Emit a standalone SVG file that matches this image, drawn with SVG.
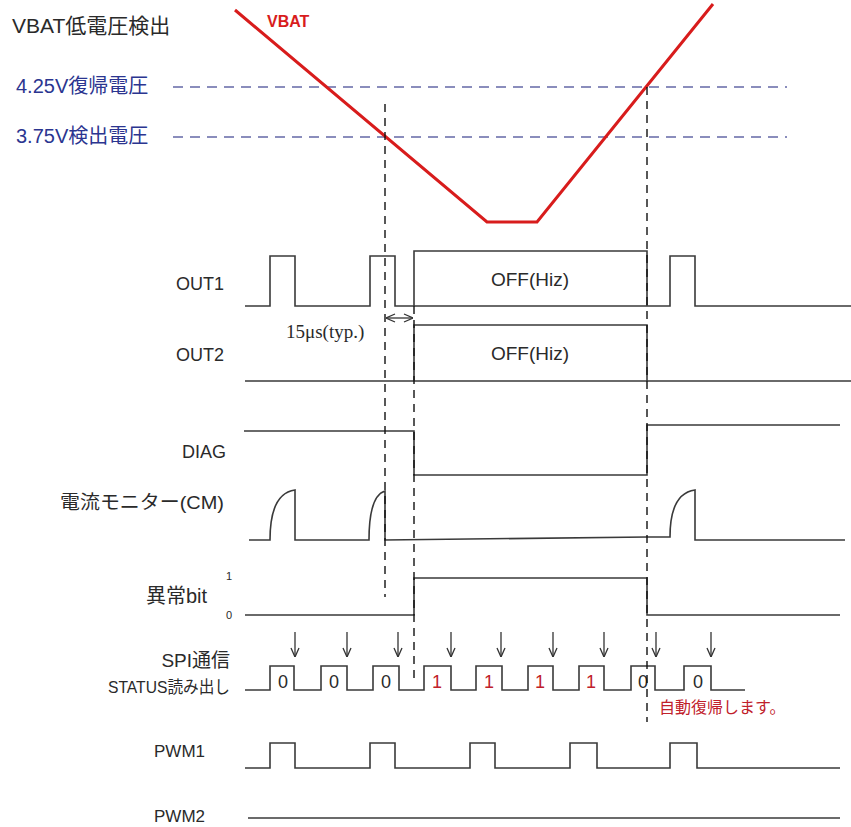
<svg xmlns="http://www.w3.org/2000/svg" width="851" height="827" viewBox="0 0 851 827">
<style>
  text { font-family: "Liberation Sans", "Noto Sans CJK JP", sans-serif; fill: #2a2a2a; }
  .lbl { font-size: 18px; }
  .jp { font-size: 19px; }
  .blue { fill: #2b3590; font-size: 20px; }
  .sig { fill: none; stroke: #3a3a3a; stroke-width: 1.6; stroke-linejoin: miter; }
  .vdash { fill: none; stroke: #111; stroke-width: 1.4; stroke-dasharray: 8 6; }
  .hdash { fill: none; stroke: #6468a6; stroke-width: 1.5; stroke-dasharray: 10 7; }
  .vbat { fill: none; stroke: #d81c1c; stroke-width: 3; stroke-linejoin: miter; }
  .dig { font-size: 18px; text-anchor: middle; }
  .red { fill: #c0202a; }
  .arr { fill: none; stroke: #333; stroke-width: 1.3; }
</style>
<defs>
  <marker id="open" viewBox="0 0 10 10" refX="10" refY="5" markerWidth="10" markerHeight="10" markerUnits="userSpaceOnUse" orient="auto-start-reverse">
    <path d="M1,1 L10,5 L1,9" fill="none" stroke="#333" stroke-width="1.3"/>
  </marker>
</defs>
<rect width="851" height="827" fill="#fff"/>

<g id="vbat-section">
  <text x="12" y="33" style="font-size:21px">VBAT低電圧検出</text>
  <text x="267" y="27" style="font-size:16px;font-weight:bold;fill:#d81c1c">VBAT</text>
  <text x="16" y="93" class="blue">4.25V復帰電圧</text>
  <text x="16" y="143" class="blue">3.75V検出電圧</text>
  <line class="hdash" x1="173" y1="87" x2="787" y2="87"/>
  <line class="hdash" x1="173" y1="137" x2="787" y2="137"/>
  <polyline class="vbat" points="235,10 487,222 537,222 713,4"/>
</g>

<g id="out1">
  <text x="176" y="290" class="lbl">OUT1</text>
  <path class="sig" d="M245,306 H270 V256 H295 V306 H370 V256 H395 V306 H414 V251 H647 V306 H414 M647,306 H670 V256 H695 V306 H851"/>
  <text x="530" y="286" class="lbl" text-anchor="middle" style="font-size:19px">OFF(Hiz)</text>
</g>

<g id="out2">
  <text x="176" y="361" class="lbl">OUT2</text>
  <path class="sig" d="M245,381 H851 M414,381 V325 H647 V381"/>
  <text x="530" y="360" class="lbl" text-anchor="middle" style="font-size:19px">OFF(Hiz)</text>
</g>

<g id="delay">
  <line class="arr" x1="386" y1="318" x2="413" y2="318" marker-start="url(#open)" marker-end="url(#open)"/>
  <text x="286" y="338" style="font-family:'Liberation Serif','DejaVu Serif',serif;font-size:19px">15μs(typ.)</text>
</g>

<g id="diag">
  <text x="226" y="458" class="lbl" text-anchor="end">DIAG</text>
  <path class="sig" d="M244,431 H414 V475 H647 V425 H840"/>
</g>

<g id="cm">
  <text x="224" y="509" class="jp" text-anchor="end" textLength="164" lengthAdjust="spacingAndGlyphs">電流モニター(CM)</text>
  <path class="sig" d="M249,540 H270 C270,505 280,492 295,490 V540 H369 C369,510 375,494 385,491 V540 L647,537 H670 C670,505 680,492 695,490 V540 H845"/>
</g>

<g id="abnormal-bit">
  <text x="146" y="603" style="font-size:20px">異常bit</text>
  <text x="226" y="580" style="font-size:11px">1</text>
  <text x="226" y="619" style="font-size:11px">0</text>
  <path class="sig" d="M245,615 H414 V578 H647 V615 H840"/>
</g>

<g id="spi">
  <text x="230" y="667" class="jp" text-anchor="end">SPI通信</text>
  <text x="108" y="693" style="font-size:17px" textLength="122" lengthAdjust="spacingAndGlyphs">STATUS読み出し</text>
  <path class="sig" d="M245,690 H270 V666 H294 V690 H321 V666 H347 V690 H373 V666 H399 V690 H424 V666 H451 V690 H476 V666 H502 V690 H528 V666 H553 V690 H579 V666 H604 V690 H631 V666 H655 V690 H684 V666 H711 V690 H745"/>
  <text x="283" y="688" class="dig">0</text>
  <text x="334" y="688" class="dig">0</text>
  <text x="386" y="688" class="dig">0</text>
  <text x="437" y="688" class="dig red">1</text>
  <text x="489" y="688" class="dig red">1</text>
  <text x="540" y="688" class="dig red">1</text>
  <text x="591" y="688" class="dig red">1</text>
  <text x="643" y="688" class="dig">0</text>
  <text x="698" y="688" class="dig">0</text>
  <g class="arr">
    <line x1="295" y1="632" x2="295" y2="657" marker-end="url(#open)"/>
    <line x1="347" y1="632" x2="347" y2="657" marker-end="url(#open)"/>
    <line x1="398" y1="632" x2="398" y2="657" marker-end="url(#open)"/>
    <line x1="451" y1="632" x2="451" y2="657" marker-end="url(#open)"/>
    <line x1="501" y1="632" x2="501" y2="657" marker-end="url(#open)"/>
    <line x1="553" y1="632" x2="553" y2="657" marker-end="url(#open)"/>
    <line x1="604" y1="632" x2="604" y2="657" marker-end="url(#open)"/>
    <line x1="656" y1="632" x2="656" y2="657" marker-end="url(#open)"/>
    <line x1="711" y1="632" x2="711" y2="657" marker-end="url(#open)"/>
  </g>
  <text x="659" y="713" style="font-size:16px;fill:#c0202a">自動復帰します。</text>
</g>

<g id="pwm1">
  <text x="154" y="757" style="font-size:17px">PWM1</text>
  <path class="sig" d="M245,768 H270 V743 H295 V768 H370 V743 H395 V768 H470 V743 H495 V768 H570 V743 H597 V768 H670 V743 H697 V768 H840"/>
</g>

<g id="pwm2">
  <text x="154" y="822" style="font-size:17px">PWM2</text>
  <path class="sig" d="M248,818 H840"/>
</g>

<g id="connectors">
  <line class="vdash" x1="385" y1="104" x2="385" y2="597"/>
  <line class="vdash" x1="414" y1="306" x2="414" y2="680"/>
  <line class="vdash" x1="647" y1="87" x2="647" y2="722"/>
</g>
</svg>
